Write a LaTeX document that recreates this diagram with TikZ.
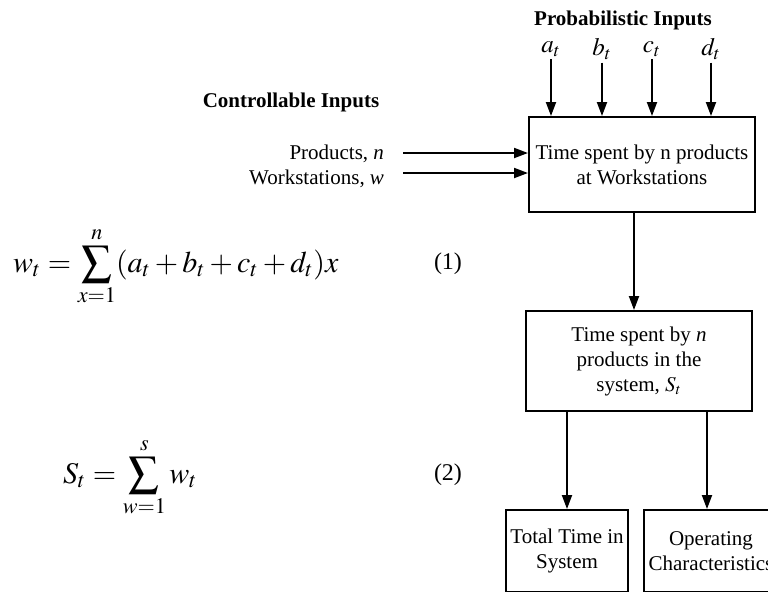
\documentclass[tikz,border=0pt]{standalone}
\usepackage{amsmath}
\usepackage{mathptmx}
\usepackage[no-math]{fontspec}
\setmainfont{Liberation Serif}
\usetikzlibrary{arrows.meta,positioning}

\begin{document}
\begin{tikzpicture}[
        x=0.5pt, y=-0.5pt,
        every node/.style={font=\fontsize{10.5}{12.5}\selectfont},
        block/.style={draw, rectangle, line width=1pt, align=center, inner sep=2pt},
        lbl/.style={inner sep=1pt},
        var/.style={inner sep=1pt, font=\fontsize{12.5}{15}\selectfont},
        hdr/.style={font=\fontsize{10.5}{12.5}\selectfont\bfseries},
        eqn/.style={anchor=base west, inner sep=0pt, font=\fontsize{15}{18}\selectfont},
        eqnum/.style={anchor=base west, inner sep=0pt, font=\fontsize{12}{14}\selectfont},
        >={Triangle[length=7pt,width=5pt]}, line width=1pt
    ]
        \useasboundingbox (0,0) rectangle (768,591);
        \clip (0,0) rectangle (768,591);

        % blocks
        \node[block, minimum width=113pt, minimum height=47.5pt] (ws) at (642,164.5) {Time spent by n products\\at Workstations};
        \node[block, minimum width=113pt, minimum height=50pt] (sys) at (639,361) {Time spent by \textit{n}\\products in the\\system, $S_t$};
        \node[block, minimum width=61pt, minimum height=41pt] (tot) at (567,551) {Total Time in\\System};
        \node[block, minimum width=67pt, minimum height=41pt, inner sep=0pt] (opc) at (711,551) {Operating\\Characteristics};

        % probabilistic inputs
        \node[hdr] (prob) at (623,20) {Probabilistic Inputs};
        \foreach \v/\x in {a/551,b/602,c/652,d/711} {
            \node[var] (\v) at (\x,49) {$\v_t$};
            \draw[->] (\v.south) -- (\v.south |- ws.north);
        }

        % controllable inputs
        \node[hdr] (ctrl) at (291,102) {Controllable Inputs};
        \node[lbl, anchor=base east] (prod) at (387,159) {Products, \textit{n}};
        \node[lbl, anchor=base east] (wst) at (387,184) {Workstations, \textit{w}};
        \draw[->] ([shift={(16,-6)}]prod.base east) coordinate (p1) -- (p1 -| ws.west);
        \draw[->] ([shift={(16,-11)}]wst.base east) coordinate (p2) -- (p2 -| ws.west);

        \draw[->] ([xshift=-4pt]ws.south) -- ([xshift=-4pt]ws.south |- sys.north);
        \draw[->] (sys.south -| tot) -- (tot.north);
        \draw[->] ([xshift=-2pt]sys.south -| opc) -- ([xshift=-2pt]opc.north);

        % equations
        \node[eqn] (eq1) at (12,272) {$\displaystyle w_t=\sum_{x=1}^{n}(a_t+b_t+c_t+d_t)x$};
        \node[eqn] (eq2) at (62,483) {$\displaystyle S_t=\sum_{w=1}^{s}w_t$};
        \node[eqnum] (n1) at (433,269) {(1)};
        \node[eqnum] (n2) at (433,480) {(2)};
    \end{tikzpicture}
\end{document}
